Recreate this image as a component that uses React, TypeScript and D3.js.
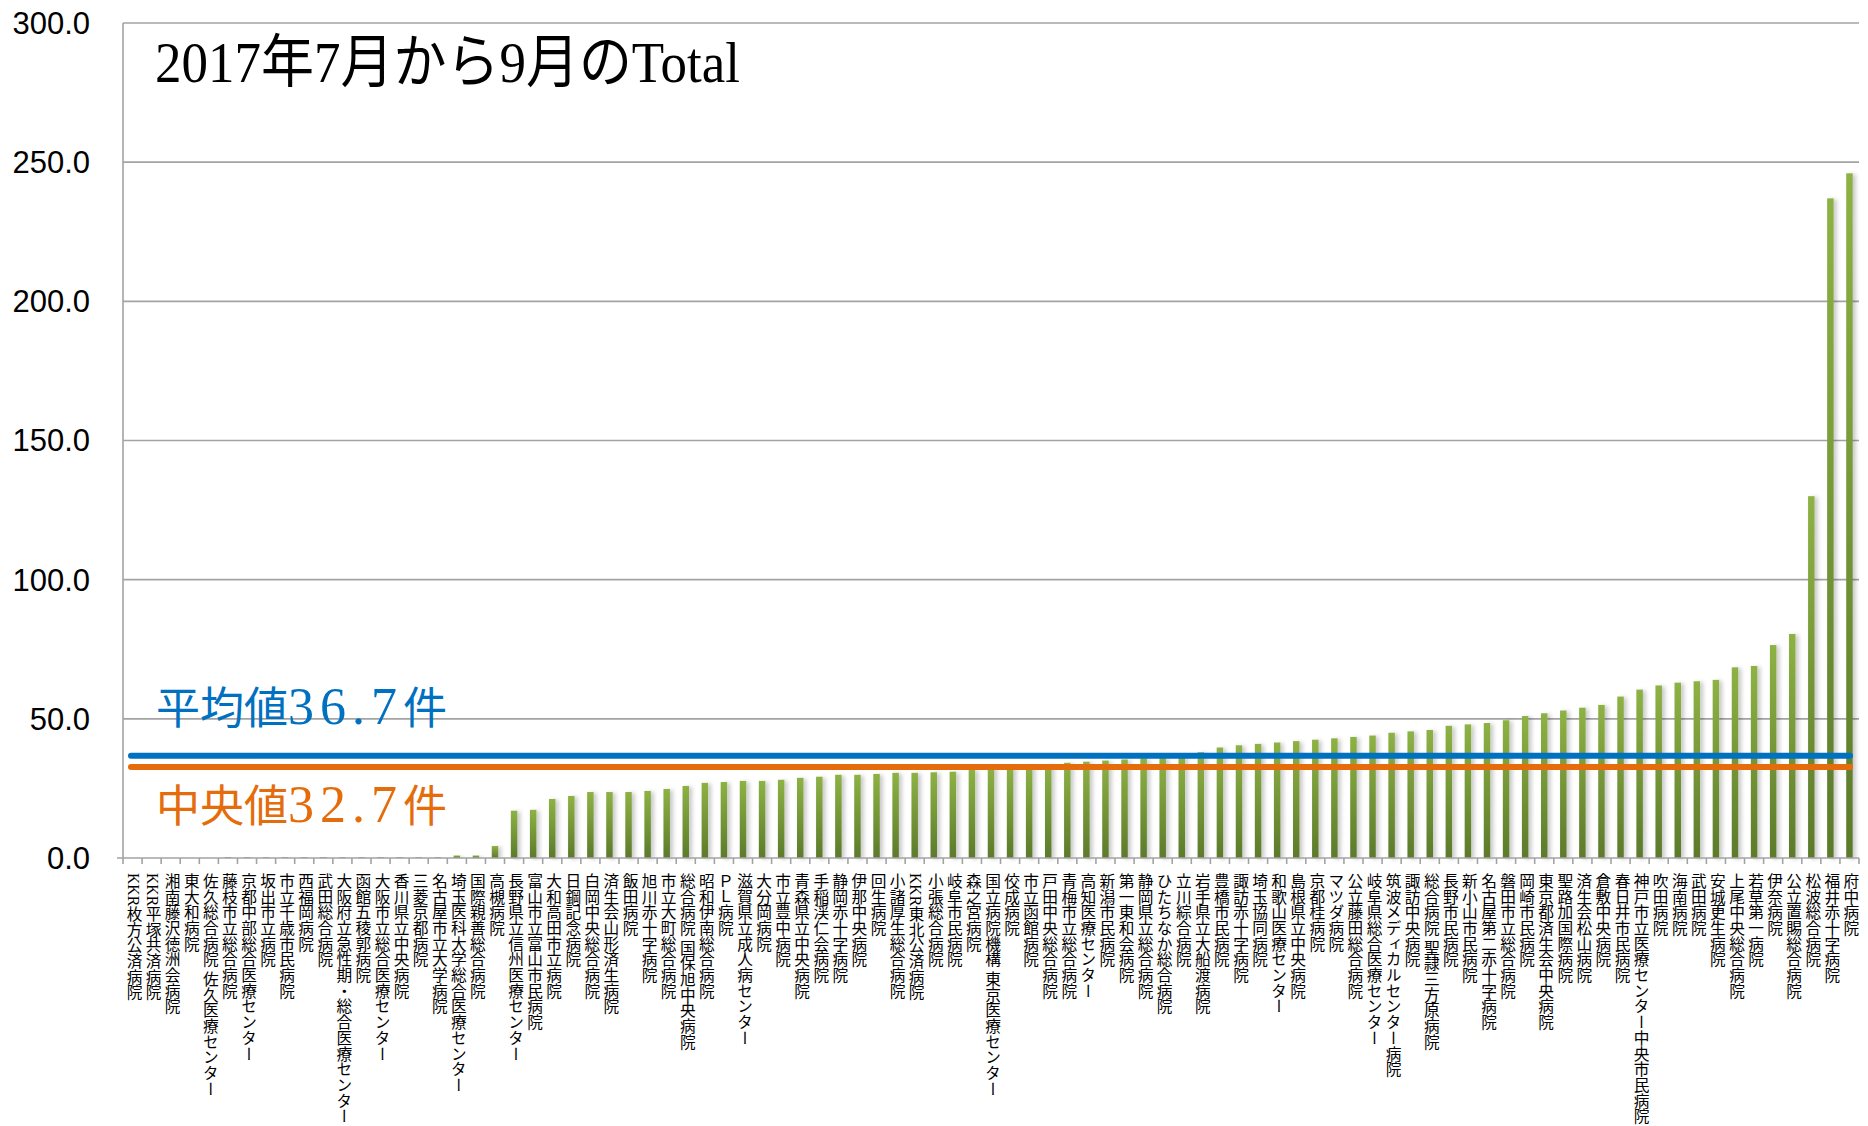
import { useEffect, useRef } from 'react';
import * as d3 from 'd3';

// hospitals, sorted by total cases Jul–Sep 2017
const hospitals = [
  'KKR枚方公済病院', 'KKR平塚共済病院', '湘南藤沢徳洲会病院', '東大和病院', '佐久総合病院 佐久医療センター',
  '藤枝市立総合病院', '京都中部総合医療センター', '坂出市立病院', '市立千歳市民病院', '西福岡病院',
  '武田総合病院', '大阪府立急性期・総合医療センター', '函館五稜郭病院', '大阪市立総合医療センター', '香川県立中央病院',
  '三菱京都病院', '名古屋市立大学病院', '埼玉医科大学総合医療センター', '国際親善総合病院', '高槻病院',
  '長野県立信州医療センター', '富山市立富山市民病院', '大和高田市立病院', '日鋼記念病院', '白岡中央総合病院',
  '済生会山形済生病院', '飯田病院', '旭川赤十字病院', '市立大町総合病院', '総合病院 国保旭中央病院',
  '昭和伊南総合病院', 'ＰＬ病院', '滋賀県立成人病センター', '大分岡病院', '市立豊中病院',
  '青森県立中央病院', '手稲渓仁会病院', '静岡赤十字病院', '伊那中央病院', '回生病院',
  '小諸厚生総合病院', 'KKR東北公済病院', '小張総合病院', '岐阜市民病院', '森之宮病院',
  '国立病院機構 東京医療センター', '佼成病院', '市立函館病院', '戸田中央総合病院', '青梅市立総合病院',
  '高知医療センター', '新潟市民病院', '第一東和会病院', '静岡県立総合病院', 'ひたちなか総合病院',
  '立川綜合病院', '岩手県立大船渡病院', '豊橋市民病院', '諏訪赤十字病院', '埼玉協同病院',
  '和歌山医療センター', '島根県立中央病院', '京都桂病院', 'マツダ病院', '公立藤田総合病院',
  '岐阜県総合医療センター', '筑波メディカルセンター病院', '諏訪中央病院', '総合病院 聖隷三方原病院', '長野市民病院',
  '新小山市民病院', '名古屋第二赤十字病院', '磐田市立総合病院', '岡崎市民病院', '東京都済生会中央病院',
  '聖路加国際病院', '済生会松山病院', '倉敷中央病院', '春日井市民病院', '神戸市立医療センター中央市民病院',
  '吹田病院', '海南病院', '武田病院', '安城更生病院', '上尾中央総合病院',
  '若草第一病院', '伊奈病院', '公立置賜総合病院', '松波総合病院', '福井赤十字病院',
  '府中病院',
];

const totals = [
  0, 0, 0, 0, 0,
  0.3, 0.3, 0.3, 0.3, 0.3,
  0.3, 0.3, 0.3, 0.3, 0.3,
  0.3, 0.3, 0.9, 0.9, 4.3,
  17.0, 17.3, 21.2, 22.3, 23.7,
  23.7, 23.7, 24.1, 24.8, 25.9,
  27.0, 27.3, 27.7, 27.7, 28.1,
  28.8, 29.2, 29.9, 29.9, 30.2,
  30.6, 30.6, 30.8, 31.0, 31.8,
  32.7, 32.9, 33.2, 33.5, 34.2,
  34.6, 35.0, 35.4, 35.8, 36.1,
  36.6, 38.0, 39.7, 40.5, 41.0,
  41.5, 42.0, 42.5, 43.0, 43.5,
  44.0, 45.0, 45.5, 46.0, 47.5,
  48.0, 48.5, 49.5, 51.0, 52.0,
  53.0, 54.0, 55.0, 58.0, 60.5,
  62.0, 63.0, 63.5, 64.0, 68.5,
  69.0, 76.5, 80.5, 130.0, 237.0,
  246.0,
];

const yTicks = [0, 50, 100, 150, 200, 250, 300];

const average = 36.7;
const median = 32.7;

const titleText = '2017年7月から9月のTotal';

const serif = '"Liberation Serif", "Noto Sans CJK JP", serif';

export default function App() {
  const svgRef = useRef<SVGSVGElement>(null);

  useEffect(() => {
    if (!svgRef.current) return;
    d3.select(svgRef.current).selectAll('*').remove();

    const width = 1868;
    const height = 1126;
    const margin = { top: 23, right: 9, bottom: 268, left: 123 };

    const svg = d3.select(svgRef.current)
      .attr('width', width)
      .attr('height', height);

    const x = d3.scaleBand<string>()
      .domain(hospitals)
      .range([margin.left, width - margin.right]);

    const y = d3.scaleLinear()
      .domain([0, 300])
      .range([height - margin.bottom, margin.top]);

    const defs = svg.append('defs');
    const grad = defs.append('linearGradient')
      .attr('id', 'barGrad')
      .attr('x1', 0).attr('y1', 0).attr('x2', 0).attr('y2', 1);
    grad.append('stop').attr('offset', '0%').attr('stop-color', '#8db244');
    grad.append('stop').attr('offset', '100%').attr('stop-color', '#5c7a2b');

    const shadow = defs.append('filter')
      .attr('id', 'barShadow')
      .attr('x', '-50%').attr('y', '-5%').attr('width', '250%').attr('height', '110%');
    shadow.append('feDropShadow')
      .attr('dx', 3).attr('dy', 1)
      .attr('stdDeviation', 2)
      .attr('flood-color', '#000')
      .attr('flood-opacity', 0.22);

    // gridlines
    svg.append('g')
      .selectAll('line')
      .data(yTicks.filter(d => d > 0))
      .join('line')
      .attr('x1', margin.left)
      .attr('x2', width - margin.right)
      .attr('y1', d => y(d))
      .attr('y2', d => y(d))
      .attr('stroke', '#a3a3a3')
      .attr('stroke-width', 1.6);

    // y axis labels
    svg.append('g')
      .selectAll('text')
      .data(yTicks)
      .join('text')
      .attr('x', 90)
      .attr('y', d => y(d))
      .attr('dy', '0.35em')
      .attr('text-anchor', 'end')
      .attr('font-family', '"Liberation Sans", Arial, sans-serif')
      .attr('font-size', 31)
      .attr('fill', '#000')
      .text(d => d.toFixed(1));

    // bars
    const bw = x.bandwidth() * 0.34;
    svg.append('g')
      .selectAll('rect')
      .data(hospitals)
      .join('rect')
      .attr('x', d => (x(d) ?? 0) + (x.bandwidth() - bw) / 2)
      .attr('y', (d, i) => y(totals[i]))
      .attr('width', bw)
      .attr('height', (d, i) => y(0) - y(totals[i]))
      .attr('fill', 'url(#barGrad)')
      .attr('filter', 'url(#barShadow)');

    // axes lines
    svg.append('line')
      .attr('x1', margin.left).attr('x2', margin.left)
      .attr('y1', y(300)).attr('y2', y(0))
      .attr('stroke', '#a3a3a3').attr('stroke-width', 1.6);

    svg.append('line')
      .attr('x1', margin.left - 6).attr('x2', width - margin.right)
      .attr('y1', y(0)).attr('y2', y(0))
      .attr('stroke', '#a3a3a3').attr('stroke-width', 1.6);

    const bounds = hospitals.map(h => x(h) ?? 0).concat([width - margin.right]);
    svg.append('g')
      .selectAll('line')
      .data(bounds)
      .join('line')
      .attr('x1', d => d).attr('x2', d => d)
      .attr('y1', y(0)).attr('y2', y(0) + 6)
      .attr('stroke', '#a3a3a3').attr('stroke-width', 1.6);

    // category labels, vertical
    svg.append('g')
      .selectAll('text')
      .data(hospitals)
      .join('text')
      .attr('x', d => (x(d) ?? 0) + x.bandwidth() / 2 + 1)
      .attr('y', y(0) + 15)
      .style('writing-mode', 'vertical-rl')
      .attr('font-family', serif)
      .attr('font-size', 15.7)
      .attr('fill', '#000')
      .text(d => d);

    // average / median lines
    const lineX0 = 131;
    const lineX1 = 1850;
    svg.append('line')
      .attr('x1', lineX0).attr('x2', lineX1)
      .attr('y1', y(average)).attr('y2', y(average))
      .attr('stroke', '#0070c0').attr('stroke-width', 6)
      .attr('stroke-linecap', 'round');
    svg.append('line')
      .attr('x1', lineX0).attr('x2', lineX1)
      .attr('y1', y(median)).attr('y2', y(median))
      .attr('stroke', '#e46c0a').attr('stroke-width', 6)
      .attr('stroke-linecap', 'round');

    const statLabel = (label: string, value: number, yPos: number, color: string) => {
      const t = svg.append('text')
        .attr('x', 156).attr('y', yPos)
        .attr('font-family', serif)
        .attr('font-size', 44)
        .attr('fill', color);
      t.append('tspan').text(label);
      t.append('tspan').attr('font-size', 52).attr('letter-spacing', 6).text(`${value}`);
      t.append('tspan').text('件');
    };
    statLabel('平均値', average, 724, '#0070c0');
    statLabel('中央値', median, 822, '#e46c0a');

    // title
    svg.append('text')
      .attr('x', 155).attr('y', 82)
      .attr('font-family', serif)
      .attr('font-size', 58)
      .attr('textLength', 585)
      .attr('lengthAdjust', 'spacingAndGlyphs')
      .attr('fill', '#000')
      .text(titleText);
  }, []);

  return (
    <svg ref={svgRef} style={{ position: 'absolute', left: 0, top: 0, background: '#fff' }} />
  );
}
